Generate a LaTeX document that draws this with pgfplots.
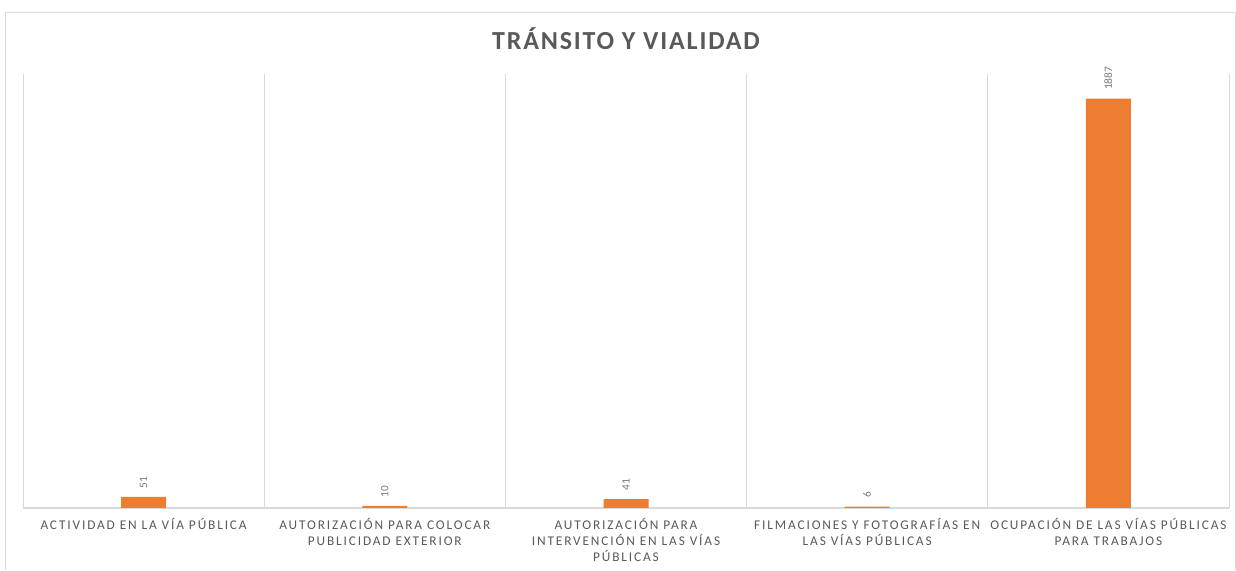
\documentclass[border=0pt]{standalone}
\usepackage{pgfplots}
\pgfplotsset{compat=1.18}
\usepackage{fontspec}
\setmainfont{Carlito}
\newfontfamily\lblfont[LetterSpace=14]{Carlito}
\newfontfamily\ttlfont[LetterSpace=7]{Carlito}
\definecolor{barorange}{HTML}{ED7D31}
\definecolor{txtgray}{HTML}{595959}
\definecolor{gridgray}{HTML}{D9D9D9}
\definecolor{framegray}{HTML}{D9D9D9}

\begin{document}
\begin{tikzpicture}
  % page extent, 1236x570 px at 0.75pt/px
  \path (-17.25pt,-46.5pt) rectangle (909.75pt,381pt);
  \draw[framegray, line width=0.6pt] (-13.5pt,-46.5pt) -- (-13.5pt,372pt) -- (909pt,372pt) -- (909pt,-46.5pt);
  \begin{axis}[
    at={(0,0)}, anchor=south west,
    scale only axis, width=904.5pt, height=325.5pt,
    xmin=-0.5, xmax=4.5, ymin=0, ymax=2000,
    axis x line*=bottom, axis y line=none,
    axis line style={gridgray, line width=0.8pt},
    ybar, bar width=33.75pt,
    xtick={0,1,2,3,4},
    xticklabels={
      {ACTIVIDAD EN LA VÍA PÚBLICA},
      {AUTORIZACIÓN PARA COLOCAR\\PUBLICIDAD EXTERIOR},
      {AUTORIZACIÓN PARA\\INTERVENCIÓN EN LAS VÍAS\\PÚBLICAS},
      {FILMACIONES Y FOTOGRAFÍAS EN\\LAS VÍAS PÚBLICAS},
      {OCUPACIÓN DE LAS VÍAS PÚBLICAS\\PARA TRABAJOS}},
    xticklabel style={align=center, font=\lblfont\fontsize{10}{12}\selectfont,
      text=txtgray, anchor=north, yshift=-4.5pt},
    major tick length=0pt,
    extra x ticks={-0.5,0.5,1.5,2.5,3.5,4.5},
    extra x tick labels={},
    extra x tick style={grid=major, major grid style={gridgray, line width=0.6pt}},
    nodes near coords,
    /pgf/number format/assume math mode=true,
    /pgf/number format/1000 sep={},
    every node near coord/.append style={rotate=90, anchor=west,
      font=\fontsize{8.5}{10}\selectfont, text=txtgray!80, xshift=3pt},
    title={\ttlfont\bfseries\fontsize{19.5}{22}\selectfont TRÁNSITO Y VIALIDAD},
    title style={text=txtgray, at={(0.5,1)}, anchor=center, yshift=20.5pt},
  ]
  \addplot[fill=barorange, draw=none] coordinates {(0,51) (1,10) (2,41) (3,6) (4,1887)};
  \end{axis}
\end{tikzpicture}
\end{document}
